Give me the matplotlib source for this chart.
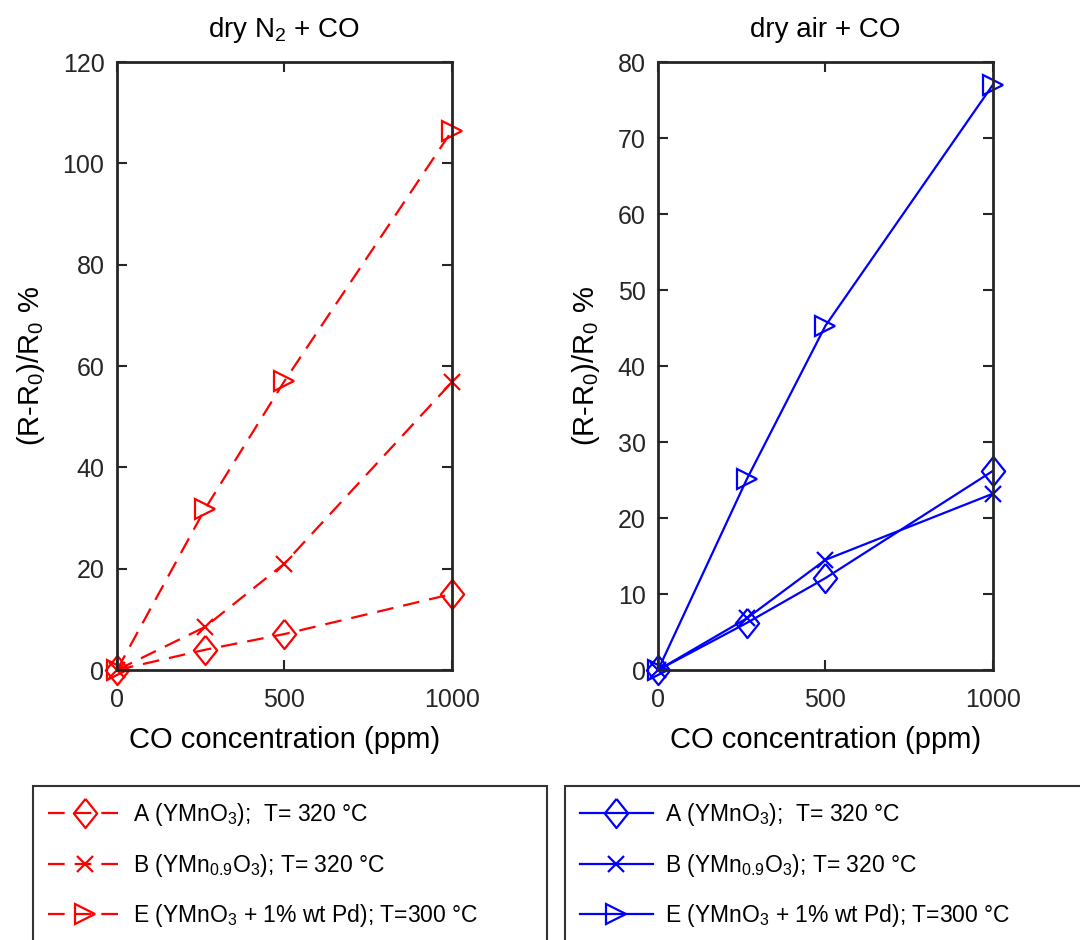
import matplotlib
matplotlib.use('Agg')
import matplotlib.pyplot as plt

plt.rcParams['font.family'] = ['Liberation Sans', 'DejaVu Sans']
plt.rcParams['mathtext.fontset'] = 'custom'
plt.rcParams['mathtext.rm'] = 'Liberation Sans'
plt.rcParams['mathtext.it'] = 'Liberation Sans'

# CO concentration (ppm)
co_ppm = [0, 263, 500, 1000]
co_ppm_air = [0, 265, 500, 1000]

# response (R-R0)/R0 % in dry N2
n2_a = [0, 4.0, 7.1, 15.0]
n2_b = [0, 8.5, 21.0, 56.8]
n2_e = [0, 31.8, 57.0, 106.4]

# response (R-R0)/R0 % in dry air
air_a = [0, 6.2, 12.1, 26.2]
air_b = [0, 6.8, 14.5, 23.2]
air_e = [0, 25.1, 45.3, 77.0]

labels = [
    r"A (YMnO$_3$);  T= 320 °C",
    r"B (YMn$_{0.9}$O$_3$); T= 320 °C",
    r"E (YMnO$_3$ + 1% wt Pd); T=300 °C",
]
# slightly tall diamond, like the classic MATLAB one
diamond = [(0, 1), (0.8, 0), (0, -1), (-0.8, 0), (0, 1)]
markers = [diamond, 'x', '>']
msizes = [21, 11, 14]

dark = '#262626'
fig = plt.figure(figsize=(10.8, 9.4), dpi=100)
ax1 = fig.add_axes([0.1083, 0.2872, 0.310, 0.6468])
ax2 = fig.add_axes([0.6093, 0.2872, 0.310, 0.6468])


def style_axes(ax, ymax, ystep, title):
    ax.set_xlim(0, 1000)
    ax.set_ylim(0, ymax)
    ax.set_xticks([0, 500, 1000])
    ax.set_yticks(range(0, ymax + 1, ystep))
    ax.tick_params(direction='in', length=7, width=1.5, colors=dark,
                   labelsize=18, top=True, right=True, pad=9)
    ax.tick_params(axis='x', pad=13)
    for s in ax.spines.values():
        s.set_linewidth(2)
        s.set_color(dark)
    ax.set_xlabel("CO concentration (ppm)", fontsize=21, color='black', labelpad=10)
    ax.set_ylabel(r"(R-R$_0$)/R$_0$ %", fontsize=21, color='black', labelpad=11)
    ax.set_title(title, fontsize=20, pad=18)


# dry N2 - dashed red
n2_series = [n2_a, n2_b, n2_e]
h1 = []
for ys, m, ms, lab in zip(n2_series, markers, msizes, labels):
    ln, = ax1.plot(co_ppm, ys, color='red', linestyle=(0, (7.5, 4.5)), linewidth=1.6,
                   marker=m, markersize=ms, markerfacecolor='none',
                   markeredgewidth=1.6, label=lab, clip_on=False)
    h1.append(ln)
style_axes(ax1, 120, 20, r"dry N$_2$ + CO")

# dry air - solid blue
air_series = [air_a, air_b, air_e]
h2 = []
for ys, m, ms, lab in zip(air_series, markers, msizes, labels):
    ln, = ax2.plot(co_ppm_air, ys, color='blue', linestyle='-', linewidth=1.6,
                   marker=m, markersize=ms, markerfacecolor='none',
                   markeredgewidth=1.6, label=lab, clip_on=False)
    h2.append(ln)
style_axes(ax2, 80, 10, "dry air + CO")

leg_kw = dict(loc='upper left', mode='expand', fontsize=16.5, fancybox=False,
              handlelength=3.2, handletextpad=0.5, labelspacing=1.03,
              borderpad=0.65, borderaxespad=0)
leg1 = fig.legend(handles=h1, bbox_to_anchor=(0.0306, 0.0, 0.476, 0.1638), **leg_kw)
leg2 = fig.legend(handles=h2, bbox_to_anchor=(0.523, 0.0, 0.50, 0.1638), **leg_kw)
for lg in (leg1, leg2):
    lg.get_frame().set_edgecolor('black')
    lg.get_frame().set_linewidth(1.5)

fig.savefig("out.png", dpi=100)
